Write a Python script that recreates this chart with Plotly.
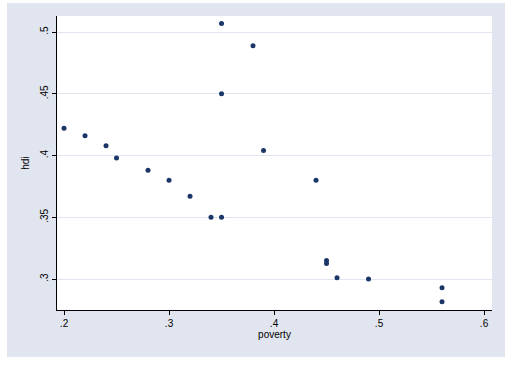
import plotly.graph_objects as go

poverty = [0.20, 0.22, 0.24, 0.25, 0.28, 0.30, 0.32, 0.34, 0.35, 0.35, 0.35,
           0.38, 0.39, 0.44, 0.45, 0.45, 0.46, 0.49, 0.56, 0.56]
hdi = [0.422, 0.416, 0.408, 0.398, 0.388, 0.380, 0.367, 0.350, 0.350, 0.450, 0.507,
       0.489, 0.404, 0.380, 0.315, 0.3125, 0.301, 0.300, 0.293, 0.2815]

x_ticks = [0.2, 0.3, 0.4, 0.5, 0.6]
x_tick_labels = [".2", ".3", ".4", ".5", ".6"]
y_ticks = [0.30, 0.35, 0.40, 0.45, 0.50]
y_tick_labels = [".3", ".35", ".4", ".45", ".5"]

bg = "#e1e5ef"
navy = "#1a3668"
font = "Liberation Sans, Arial, sans-serif"

fig = go.Figure()
fig.add_trace(go.Scatter(
    x=poverty, y=hdi, mode="markers",
    marker=dict(color=navy, size=5, line=dict(width=0)),
    showlegend=False,
))

fig.update_layout(
    width=514, height=365,
    margin=dict(l=57, r=22, t=16, b=55, autoexpand=False),
    paper_bgcolor="white",
    plot_bgcolor="white",
    font=dict(family=font, size=10, color="black"),
    shapes=[
        dict(type="rect", xref="paper", yref="paper", layer="below",
             x0=-0.1149, x1=1.0299, y0=-0.1599, y1=1.0442,
             fillcolor=bg, line=dict(width=0)),
        dict(type="rect", xref="paper", yref="paper", layer="below",
             x0=0, x1=1, y0=0, y1=1,
             fillcolor="white", line=dict(width=0)),
    ],
    xaxis=dict(
        range=[0.1933, 0.6076],
        tickvals=x_ticks, ticktext=x_tick_labels,
        showgrid=False, zeroline=False,
        showline=True, linecolor="black", linewidth=1,
        ticks="outside", ticklen=4, tickcolor="black",
        tickfont=dict(size=10),
        automargin=False,
        title=dict(text="poverty", font=dict(size=10), standoff=2),
    ),
    yaxis=dict(
        range=[0.2749, 0.513],
        tickvals=y_ticks, ticktext=y_tick_labels,
        showgrid=True, gridcolor=bg, gridwidth=1,
        zeroline=False,
        showline=True, linecolor="black", linewidth=1,
        ticks="outside", ticklen=4, tickcolor="black",
        tickangle=-90,
        tickfont=dict(size=10),
        automargin=False,
        title=dict(text="hdi", font=dict(size=10), standoff=7),
    ),
)

fig.write_html("out.html", config={"displayModeBar": False},
               post_script="document.body.style.margin='0';")
